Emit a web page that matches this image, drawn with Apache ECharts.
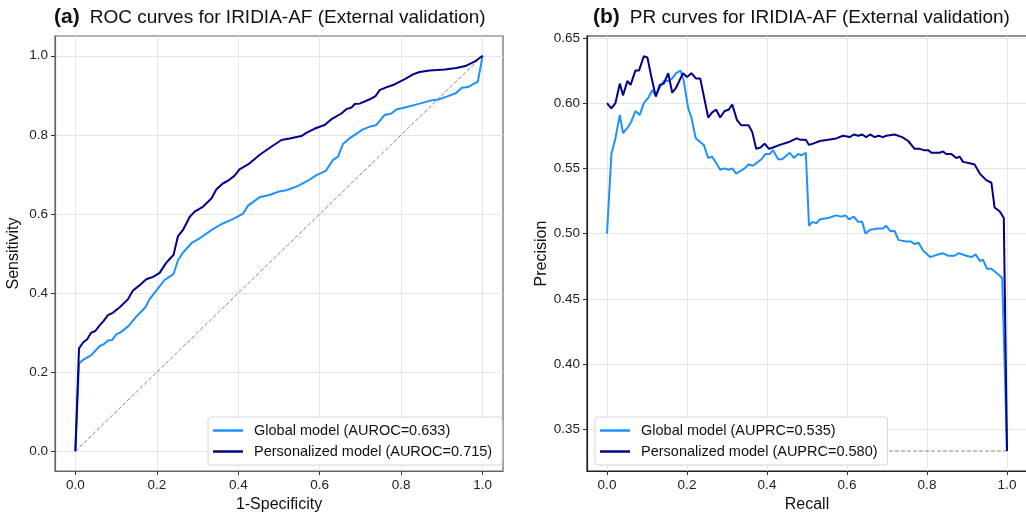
<!DOCTYPE html>
<html>
<head>
<meta charset="utf-8">
<script src="https://cdn.jsdelivr.net/npm/echarts@6/dist/echarts.min.js"></script>
<style>
  html, body { margin: 0; padding: 0; background: #fff; }
  #chart { width: 1026px; height: 516px; }
</style>
</head>
<body>
<div id="chart"></div>
<script>
// ROC curves, [1-specificity, sensitivity]
var rocGlobal = [[0,0],[0.009,0.222],[0.019,0.231],[0.039,0.243],[0.06,0.266],[0.069,0.27],[0.08,0.28],[0.09,0.281],[0.101,0.296],[0.11,0.3],[0.131,0.317],[0.151,0.342],[0.172,0.364],[0.182,0.384],[0.203,0.412],[0.219,0.433],[0.241,0.448],[0.252,0.483],[0.264,0.502],[0.285,0.526],[0.309,0.541],[0.334,0.559],[0.358,0.574],[0.383,0.585],[0.412,0.601],[0.424,0.621],[0.452,0.642],[0.477,0.648],[0.497,0.656],[0.518,0.66],[0.547,0.671],[0.571,0.684],[0.592,0.698],[0.615,0.709],[0.632,0.736],[0.645,0.745],[0.657,0.777],[0.673,0.791],[0.706,0.814],[0.727,0.822],[0.739,0.825],[0.759,0.85],[0.776,0.854],[0.788,0.864],[0.817,0.871],[0.845,0.879],[0.87,0.886],[0.894,0.89],[0.915,0.898],[0.935,0.906],[0.949,0.919],[0.964,0.921],[0.976,0.928],[0.988,0.934],[1,1]];
var rocPersonal = [[0,0],[0.009,0.26],[0.019,0.275],[0.029,0.283],[0.039,0.3],[0.049,0.304],[0.06,0.319],[0.069,0.329],[0.08,0.344],[0.092,0.35],[0.109,0.364],[0.129,0.384],[0.141,0.406],[0.158,0.42],[0.174,0.435],[0.191,0.441],[0.207,0.451],[0.222,0.475],[0.233,0.488],[0.241,0.496],[0.252,0.544],[0.264,0.559],[0.281,0.593],[0.293,0.606],[0.313,0.618],[0.334,0.639],[0.346,0.662],[0.362,0.677],[0.375,0.684],[0.391,0.697],[0.403,0.713],[0.428,0.728],[0.452,0.749],[0.481,0.77],[0.506,0.787],[0.526,0.791],[0.555,0.797],[0.567,0.805],[0.588,0.816],[0.612,0.825],[0.628,0.839],[0.653,0.854],[0.665,0.865],[0.678,0.869],[0.686,0.878],[0.698,0.879],[0.723,0.89],[0.737,0.898],[0.747,0.913],[0.763,0.92],[0.78,0.926],[0.792,0.932],[0.809,0.941],[0.829,0.953],[0.845,0.959],[0.87,0.963],[0.907,0.965],[0.935,0.969],[0.96,0.975],[0.98,0.985],[1,1]];
var rocChance = [[0,0],[1,1]];

// PR curves, [recall, precision]
var prGlobal = [[0,0.5],[0.011,0.561],[0.021,0.573],[0.032,0.591],[0.04,0.577],[0.051,0.581],[0.061,0.586],[0.071,0.594],[0.082,0.591],[0.092,0.6],[0.103,0.604],[0.113,0.61],[0.122,0.606],[0.132,0.612],[0.142,0.617],[0.153,0.617],[0.163,0.619],[0.173,0.623],[0.184,0.625],[0.192,0.617],[0.203,0.596],[0.211,0.589],[0.222,0.573],[0.242,0.568],[0.253,0.558],[0.263,0.559],[0.283,0.549],[0.294,0.55],[0.304,0.549],[0.313,0.55],[0.323,0.546],[0.334,0.548],[0.344,0.55],[0.354,0.553],[0.365,0.552],[0.386,0.557],[0.396,0.561],[0.407,0.561],[0.415,0.564],[0.428,0.557],[0.438,0.557],[0.457,0.562],[0.467,0.558],[0.478,0.561],[0.486,0.56],[0.497,0.562],[0.505,0.506],[0.513,0.509],[0.523,0.508],[0.533,0.511],[0.553,0.512],[0.573,0.514],[0.586,0.513],[0.596,0.514],[0.605,0.511],[0.617,0.513],[0.628,0.509],[0.638,0.509],[0.646,0.5],[0.658,0.503],[0.678,0.504],[0.69,0.504],[0.698,0.506],[0.708,0.502],[0.719,0.502],[0.729,0.495],[0.748,0.494],[0.759,0.494],[0.769,0.492],[0.779,0.493],[0.79,0.487],[0.808,0.482],[0.827,0.484],[0.84,0.485],[0.853,0.483],[0.869,0.483],[0.879,0.485],[0.898,0.483],[0.911,0.482],[0.922,0.484],[0.932,0.479],[0.94,0.48],[0.95,0.473],[0.961,0.473],[0.977,0.469],[0.988,0.466],[0.99,0.465],[1,0.3333]];
var prPersonal = [[0,0.6],[0.011,0.596],[0.021,0.6],[0.032,0.615],[0.04,0.606],[0.051,0.617],[0.059,0.614],[0.071,0.625],[0.08,0.625],[0.092,0.636],[0.101,0.635],[0.111,0.62],[0.122,0.605],[0.132,0.614],[0.142,0.615],[0.153,0.623],[0.163,0.608],[0.173,0.612],[0.19,0.623],[0.2,0.62],[0.211,0.623],[0.222,0.619],[0.233,0.619],[0.253,0.589],[0.263,0.593],[0.273,0.595],[0.283,0.589],[0.294,0.594],[0.304,0.595],[0.313,0.599],[0.325,0.587],[0.336,0.583],[0.354,0.583],[0.363,0.578],[0.373,0.565],[0.384,0.566],[0.394,0.569],[0.405,0.565],[0.415,0.566],[0.432,0.568],[0.453,0.57],[0.474,0.573],[0.482,0.572],[0.497,0.572],[0.505,0.568],[0.515,0.569],[0.532,0.571],[0.553,0.572],[0.573,0.573],[0.59,0.575],[0.607,0.574],[0.617,0.576],[0.628,0.575],[0.638,0.576],[0.648,0.574],[0.658,0.576],[0.669,0.574],[0.679,0.575],[0.69,0.574],[0.698,0.575],[0.719,0.576],[0.738,0.574],[0.753,0.571],[0.769,0.565],[0.782,0.565],[0.792,0.564],[0.803,0.564],[0.811,0.562],[0.832,0.562],[0.84,0.563],[0.848,0.561],[0.861,0.561],[0.873,0.558],[0.882,0.559],[0.89,0.555],[0.907,0.554],[0.919,0.553],[0.932,0.546],[0.948,0.541],[0.961,0.539],[0.969,0.52],[0.982,0.517],[0.992,0.512],[1,0.3333]];
var prBaseline = [[0,0.3333],[1,0.3333]];

var xTicks = [0, 0.2, 0.4, 0.6, 0.8, 1.0];
var rocYTicks = [0, 0.2, 0.4, 0.6, 0.8, 1.0];
var prYTicks = [0.35, 0.40, 0.45, 0.50, 0.55, 0.60, 0.65];

var rocNames = ['Global model (AUROC=0.633)', 'Personalized model (AUROC=0.715)'];
var prNames = ['Global model (AUPRC=0.535)', 'Personalized model (AUPRC=0.580)'];

var lightBlue = '#1e90ff';
var darkBlue = '#00008b';
var font = '"Liberation Sans", Arial, sans-serif';

function valAxis(idx, min, max, ticks, digits, name, gap, lineColor) {
  return {
    type: 'value',
    gridIndex: idx,
    min: min,
    max: max,
    name: name,
    nameLocation: 'middle',
    nameGap: gap,
    nameTextStyle: { fontSize: 16, color: '#111', fontFamily: font },
    axisLine: { show: true, onZero: false, lineStyle: { color: lineColor, width: 1.2 } },
    axisTick: { show: true, customValues: ticks, length: 4, lineStyle: { color: '#333' } },
    axisLabel: {
      customValues: ticks, fontSize: 13.5, color: '#222', fontFamily: font, margin: 7,
      formatter: function (v) { return v.toFixed(digits); }
    },
    splitLine: { show: true, lineStyle: { color: '#e6e6e6', width: 1 } }
  };
}

function legendFor(names, left) {
  return {
    left: left, top: 417, orient: 'vertical',
    data: names,
    icon: 'rect', itemWidth: 30, itemHeight: 2.5, itemGap: 6,
    backgroundColor: '#fff', borderColor: '#d6d6d6', borderWidth: 1, borderRadius: 3,
    padding: [6, 10, 6, 5],
    textStyle: { fontSize: 14.5, color: '#111', fontFamily: font, padding: [0, 0, 0, 6] }
  };
}

function titleFor(tag, text, left) {
  return {
    left: left, top: 2,
    text: '{b|' + tag + '}  {n|' + text + '}',
    textStyle: { rich: {
      b: { fontSize: 21, fontWeight: 'bold', color: '#111', fontFamily: font },
      n: { fontSize: 19, fontWeight: 'normal', color: '#111', fontFamily: font }
    } }
  };
}

var chart = echarts.init(document.getElementById('chart'), null, { renderer: 'canvas' });
chart.setOption({
  animation: false,
  backgroundColor: '#fff',
  textStyle: { fontFamily: font },
  title: [
    titleFor('(a)', 'ROC curves for IRIDIA-AF (External validation)', 49),
    titleFor('(b)', 'PR curves for IRIDIA-AF (External validation)', 588)
  ],
  grid: [
    { left: 55, top: 36, width: 448, height: 435, outerBoundsMode: 'none', containLabel: false,
      show: true, borderColor: '#666', borderWidth: 1.2, backgroundColor: 'transparent' },
    { left: 587, top: 36, width: 440, height: 435, outerBoundsMode: 'none', containLabel: false,
      show: true, borderColor: '#222', borderWidth: 1.2, backgroundColor: 'transparent' }
  ],
  xAxis: [
    valAxis(0, -0.05, 1.05, xTicks, 1, '1-Specificity', 25, '#666'),
    valAxis(1, -0.05, 1.05, xTicks, 1, 'Recall', 25, '#222')
  ],
  yAxis: [
    valAxis(0, -0.05, 1.05, rocYTicks, 1, 'Sensitivity', 33, '#666'),
    valAxis(1, 0.318, 0.6515, prYTicks, 2, 'Precision', 37, '#222')
  ],
  legend: [legendFor(rocNames, 208), legendFor(prNames, 595)],
  series: [
    { type: 'line', xAxisIndex: 0, yAxisIndex: 0, data: rocChance, showSymbol: false, silent: true,
      lineStyle: { color: '#888', width: 1, type: [4, 2] }, z: 1 },
    { name: rocNames[0], type: 'line', xAxisIndex: 0, yAxisIndex: 0, data: rocGlobal, showSymbol: false,
      color: lightBlue, lineStyle: { color: lightBlue, width: 2 }, z: 2 },
    { name: rocNames[1], type: 'line', xAxisIndex: 0, yAxisIndex: 0, data: rocPersonal, showSymbol: false,
      color: darkBlue, lineStyle: { color: darkBlue, width: 2 }, z: 3 },
    { type: 'line', xAxisIndex: 1, yAxisIndex: 1, data: prBaseline, showSymbol: false, silent: true,
      lineStyle: { color: '#888', width: 1, type: [4, 2] }, z: 1 },
    { name: prNames[0], type: 'line', xAxisIndex: 1, yAxisIndex: 1, data: prGlobal, showSymbol: false,
      color: lightBlue, lineStyle: { color: lightBlue, width: 2 }, z: 2 },
    { name: prNames[1], type: 'line', xAxisIndex: 1, yAxisIndex: 1, data: prPersonal, showSymbol: false,
      color: darkBlue, lineStyle: { color: darkBlue, width: 2 }, z: 3 }
  ]
});
</script>
</body>
</html>
